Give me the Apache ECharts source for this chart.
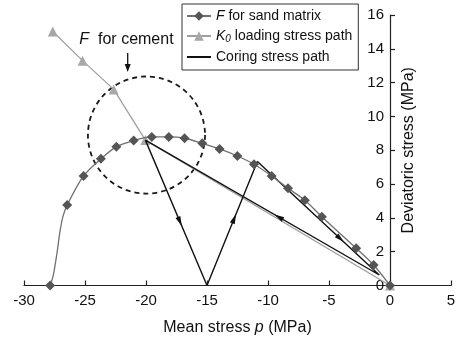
<!DOCTYPE html>
<html>
<head>
<meta charset="utf-8">
<script src="https://cdn.jsdelivr.net/npm/echarts@6/dist/echarts.min.js"></script>
<style>html,body{margin:0;padding:0;background:#fff}#c{width:474px;height:348px}</style>
</head>
<body>
<div id="c"></div>
<script>
// ---- data ----
const xTicks = [-30, -25, -20, -15, -10, -5, 0, 5];
const yTicks = [0, 2, 4, 6, 8, 10, 12, 14, 16];

// F for sand matrix (curve; marker flag = diamond shown)
const sandP = [-27.86, -27.6, -27.3, -27.05, -26.8, -26.46, -25.12, -23.7, -22.43, -21.01, -19.53, -18.13, -16.84, -15.39, -13.97, -12.51, -11.15, -9.70, -8.36, -6.98, -5.59, -2.77, -1.34, 0];
const sandQ = [0, 0.6, 1.9, 3.2, 4.1, 4.76, 6.48, 7.49, 8.2, 8.57, 8.79, 8.79, 8.71, 8.41, 8.08, 7.66, 7.17, 6.48, 5.75, 5.04, 4.07, 2.2, 1.21, 0];
const sandMarker = [1, 0, 0, 0, 0, 1, 1, 1, 1, 1, 1, 1, 1, 1, 1, 1, 1, 1, 1, 1, 1, 1, 1, 1];

// K0 loading stress path
const k0P = [-27.64, -25.2, -22.65, -20.05, 0];
const k0Q = [15.02, 13.3, 11.6, 8.6, 0];

// Coring stress path
const corP = [-20.05, -15, -10.87, -0.88, -20.05];
const corQ = [8.6, 0, 7.33, 0.62, 8.6];

// arrows along coring path: [p0, q0, p1, q1, fraction]
const arrows = [
  [-20.05, 8.6, -15, 0, 0.56],
  [-15, 0, -10.87, 7.33, 0.54],
  [-0.88, 0.62, -20.05, 8.6, 0.43],
  [-10.87, 7.33, -0.88, 0.62, 0.68]
];

// dashed circle "F for cement": [p, q, radius in p units]
const cementCircle = [[-19.96, 8.9, 4.8]];
// annotation: [textP, textQ, arrowP, arrowTopQ, arrowTipQ]
const cementNote = [[-21.6, 14.53, -21.5, 13.75, 12.63]];

const seriesNames = ['F for sand matrix', 'K0 loading stress path', 'Coring stress path'];
const legendLabels = {
  'F for sand matrix': '{i|F} for sand matrix',
  'K0 loading stress path': '{i|K}{sub|0} loading stress path',
  'Coring stress path': 'Coring stress path'
};

// ---- chart ----
const FONT = '"Liberation Sans", Arial, Helvetica, sans-serif';
const chart = echarts.init(document.getElementById('c'), null, {renderer: 'canvas'});

const sandData = sandP.map((p, i) => sandMarker[i] ? [p, sandQ[i]] : {value: [p, sandQ[i]], symbol: 'none'});
const k0Data = k0P.map((p, i) => [p, k0Q[i]]);
const corData = corP.map((p, i) => [p, corQ[i]]);

const option = {
  animation: false,
  backgroundColor: '#fff',
  grid: {left: 24, right: 23, top: 15, bottom: 62.5, containLabel: false, outerBoundsMode: 'none'},
  legend: {
    data: [
      {name: seriesNames[0]},
      {name: seriesNames[1]},
      {name: seriesNames[2], itemStyle: {opacity: 0}}
    ],
    orient: 'vertical',
    left: 182, top: 4,
    padding: [5, 6, 6, 4],
    itemGap: 6,
    itemWidth: 24,
    itemHeight: 12,
    borderColor: '#333',
    borderWidth: 1,
    backgroundColor: '#fff',
    formatter: n => legendLabels[n],
    textStyle: {
      fontFamily: FONT, fontSize: 14, color: '#111',
      rich: {
        i: {fontFamily: FONT, fontSize: 14, fontStyle: 'italic', color: '#111'},
        sub: {fontFamily: FONT, fontSize: 10, fontStyle: 'italic', color: '#111', verticalAlign: 'bottom', padding: [6, 0, 0, 0]}
      }
    }
  },
  xAxis: {
    type: 'value', min: -30, max: 5, interval: 5,
    axisLine: {show: true, onZero: false, lineStyle: {color: '#222', width: 1.2}},
    axisTick: {show: true, inside: true, length: 5, lineStyle: {color: '#222', width: 1.2}},
    axisLabel: {fontFamily: FONT, fontSize: 15, color: '#111', margin: 8},
    splitLine: {show: false},
    name: 'Mean stress {i|p} (MPa)',
    nameLocation: 'middle', nameGap: 34,
    nameTextStyle: {fontFamily: FONT, fontSize: 16, color: '#111',
      rich: {i: {fontFamily: FONT, fontSize: 16, fontStyle: 'italic', color: '#111'}}}
  },
  yAxis: {
    type: 'value', min: 0, max: 16, interval: 2, position: 'left', offset: 0,
    axisLine: {show: true, onZero: false, lineStyle: {color: '#222', width: 1.2}},
    axisTick: {show: true, inside: true, length: 5, lineStyle: {color: '#222', width: 1.2}},
    axisLabel: {fontFamily: FONT, fontSize: 15, color: '#111', margin: 6},
    splitLine: {show: false},
    name: 'Deviatoric stress (MPa)',
    nameLocation: 'middle', nameGap: -27, nameRotate: 90, nameMoveOverlap: false,
    nameTextStyle: {fontFamily: FONT, fontSize: 16, color: '#111'}
  },
  series: [
    {
      name: 'K0 loading stress path', type: 'line', z: 2,
      data: k0Data,
      symbol: 'triangle', symbolSize: 10,
      itemStyle: {color: '#a8a8a8'},
      lineStyle: {color: '#a0a0a0', width: 1.3}
    },
    {
      name: 'Coring stress path', type: 'line', z: 3,
      data: corData,
      symbol: 'none',
      itemStyle: {color: '#111'},
      lineStyle: {color: '#111', width: 1.4}
    },
    {
      name: 'F for sand matrix', type: 'line', z: 4,
      data: sandData,
      smooth: 0.3,
      symbol: 'diamond', symbolSize: 10,
      itemStyle: {color: '#555'},
      lineStyle: {color: '#707070', width: 1.3}
    },
    {
      type: 'custom', z: 5, silent: true,
      data: arrows,
      encode: {x: [0, 2], y: [1, 3]},
      renderItem: function (params, api) {
        const a = api.coord([api.value(0), api.value(1)]);
        const b = api.coord([api.value(2), api.value(3)]);
        const t = api.value(4);
        const cx = a[0] + (b[0] - a[0]) * t, cy = a[1] + (b[1] - a[1]) * t;
        const ang = Math.atan2(b[1] - a[1], b[0] - a[0]);
        const ux = Math.cos(ang), uy = Math.sin(ang), nx = -uy, ny = ux;
        const L = 10, W = 2.6;
        const tip = [cx + ux * L / 2, cy + uy * L / 2];
        const bk = [cx - ux * L / 2, cy - uy * L / 2];
        return {
          type: 'polygon',
          shape: {points: [tip, [bk[0] + nx * W, bk[1] + ny * W], [bk[0] - nx * W, bk[1] - ny * W]]},
          style: {fill: '#111'}
        };
      }
    },
    {
      type: 'custom', z: 1, silent: true,
      data: cementCircle,
      encode: {x: 0, y: 1},
      renderItem: function (params, api) {
        const c = api.coord([api.value(0), api.value(1)]);
        const r = api.size([api.value(2), 0])[0];
        return {
          type: 'circle',
          shape: {cx: c[0], cy: c[1], r: r},
          style: {fill: null, stroke: '#1a1a1a', lineWidth: 1.8, lineDash: [5, 4]}
        };
      }
    },
    {
      type: 'custom', z: 6, silent: true,
      data: cementNote,
      encode: {x: [0, 2], y: [1, 3, 4]},
      renderItem: function (params, api) {
        const tp = api.coord([api.value(0), api.value(1)]);
        const a0 = api.coord([api.value(2), api.value(3)]);
        const a1 = api.coord([api.value(2), api.value(4)]);
        const L = 8, W = 3;
        return {
          type: 'group',
          children: [
            {
              type: 'text', x: tp[0], y: tp[1],
              style: {
                text: '{i|F}  for cement',
                fontFamily: FONT, fontSize: 16, fill: '#111',
                align: 'center', verticalAlign: 'middle',
                rich: {i: {fontFamily: FONT, fontSize: 16, fontStyle: 'italic', fill: '#111'}}
              }
            },
            {
              type: 'line',
              shape: {x1: a0[0], y1: a0[1], x2: a1[0], y2: a1[1] - L + 1},
              style: {stroke: '#111', lineWidth: 1.3}
            },
            {
              type: 'polygon',
              shape: {points: [[a1[0], a1[1]], [a1[0] - W, a1[1] - L], [a1[0] + W, a1[1] - L]]},
              style: {fill: '#111'}
            }
          ]
        };
      }
    }
  ]
};
chart.setOption(option);
// place the y axis on p = 0 using the x axis scale
const xZero = chart.convertToPixel({xAxisIndex: 0}, 0);
const xMinPx = chart.convertToPixel({xAxisIndex: 0}, xTicks[0]);
chart.setOption({yAxis: {offset: -(xZero - xMinPx)}});
</script>
</body>
</html>
